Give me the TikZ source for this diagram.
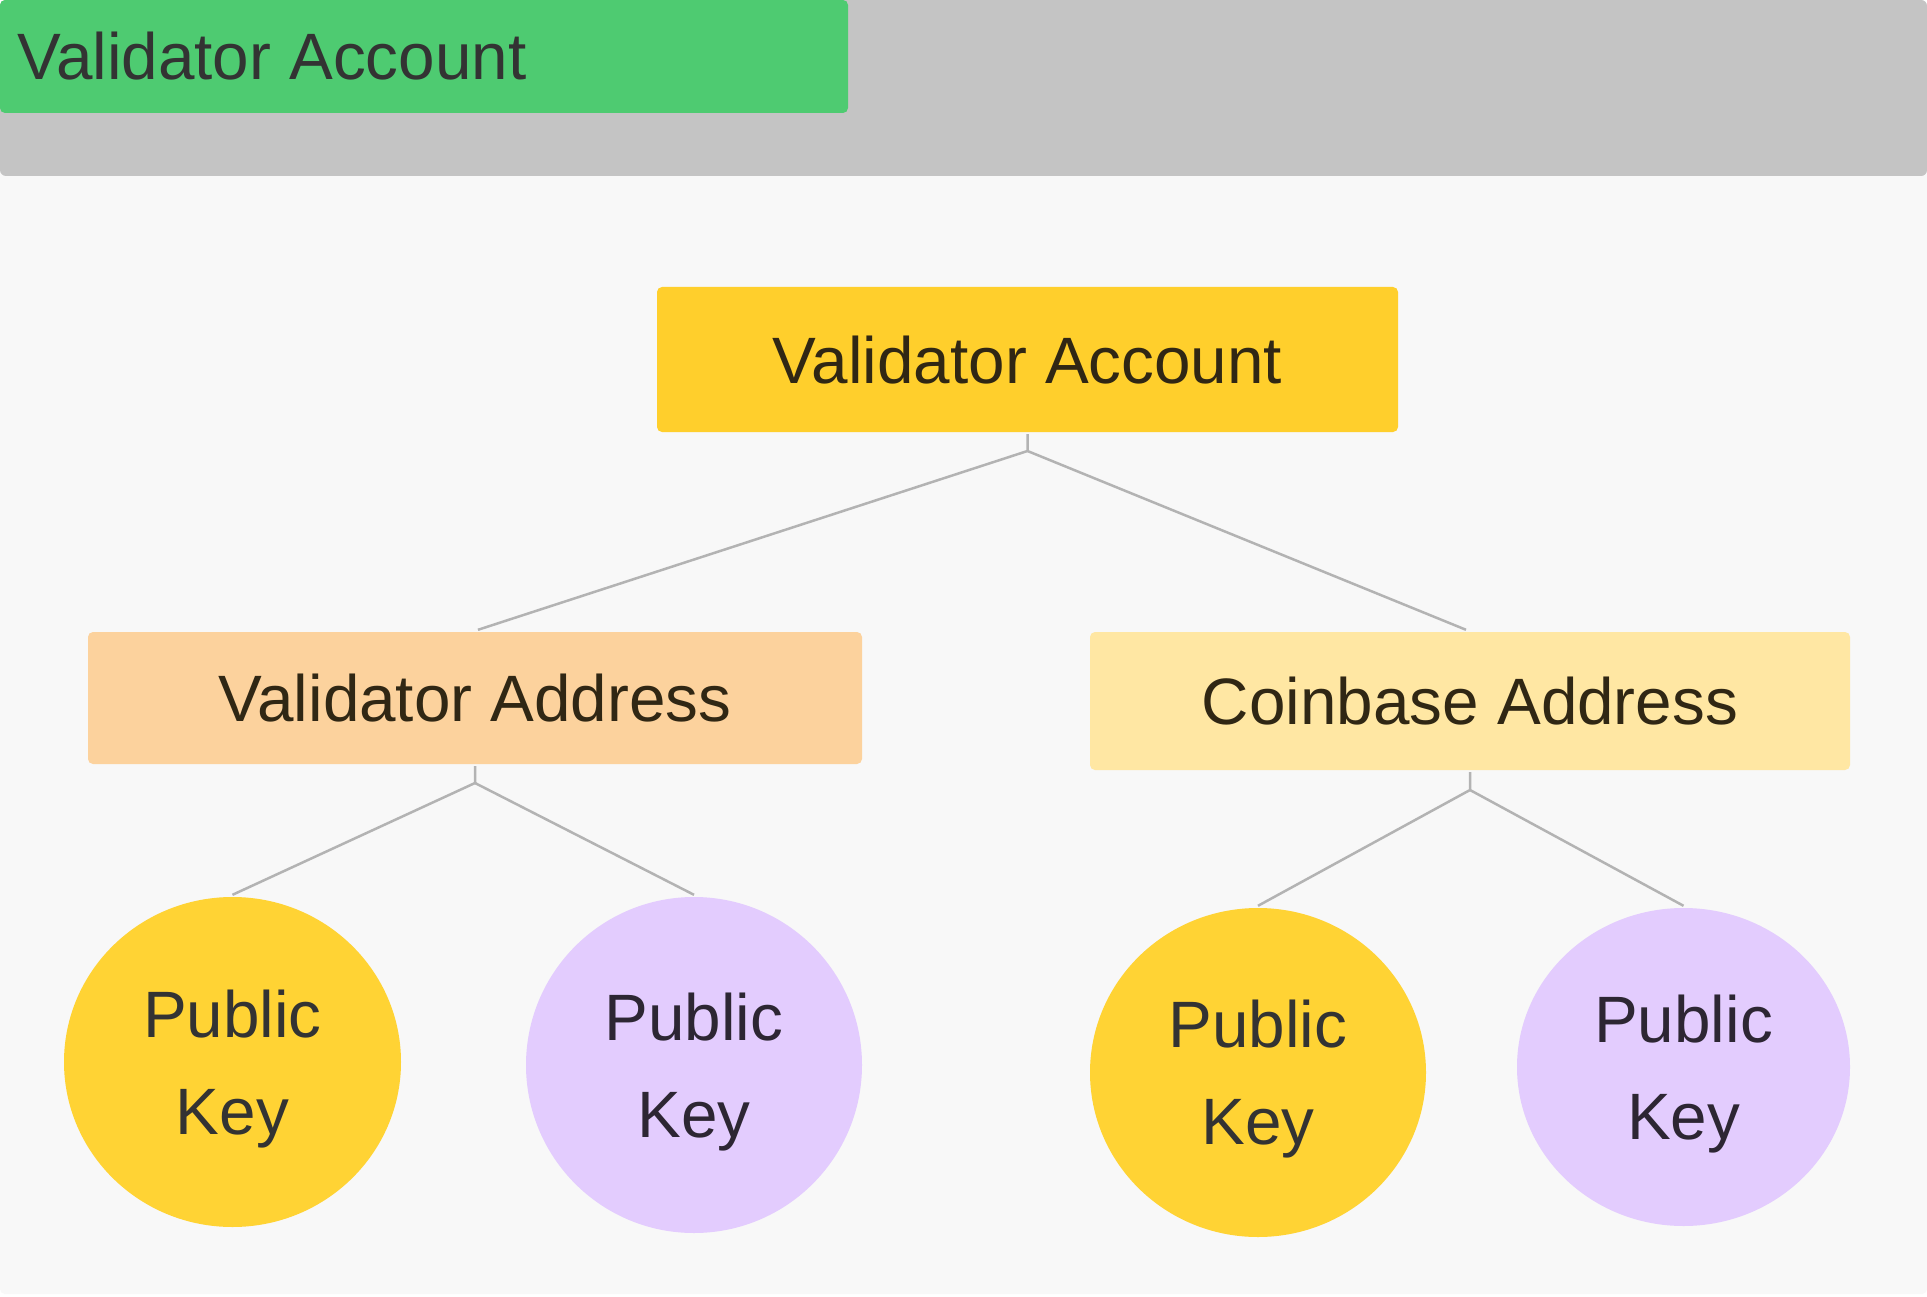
\documentclass[tikz,border=0pt]{standalone}
\usepackage{fontspec}
\setmainfont{Liberation Sans}
\usetikzlibrary{shapes.geometric}
\definecolor{pagebg}{HTML}{F8F8F8}
\definecolor{headgray}{HTML}{C4C4C4}
\definecolor{headgreen}{HTML}{4ECB71}
\definecolor{maintext}{HTML}{333333}
\definecolor{browntext}{HTML}{302714}
\definecolor{purptext}{HTML}{2D2633}
\definecolor{mainyellow}{HTML}{FFCF2C}
\definecolor{peach}{HTML}{FCD29D}
\definecolor{paleyellow}{HTML}{FFE7A3}
\definecolor{purple}{HTML}{E3CCFE}
\definecolor{circyellow}{HTML}{FFD334}
\definecolor{connline}{HTML}{B3B3B3}
\newcommand{\bigfont}{\fontsize{65.6}{97}\selectfont}
\begin{document}
\begin{tikzpicture}[x=1pt,y=-1pt,
  boxnode/.style={rectangle, rounded corners=5pt, inner sep=0pt, font=\bigfont,
    text height=47pt, text depth=0pt, text=browntext},
  keynode/.style={ellipse, inner sep=0pt, font=\bigfont, align=center,
    text depth=0pt},
  conn/.style={draw=connline, line width=2.5pt}]
\useasboundingbox (0,0) rectangle (1927,1297);
\fill[white] (0,0) rectangle (1927,1297);
\fill[pagebg, rounded corners=5pt] (0,0) rectangle (1927,1294);
\fill[headgray, rounded corners=6pt] (0,0) rectangle (1927,176);
\fill[headgreen, rounded corners=5pt] (0,0) rectangle (848,113);
\node[anchor=base west, inner sep=0pt, font=\bigfont, text=maintext] (title) at (17,80) {Validator Account};

\node[boxnode, fill=mainyellow, minimum width=741pt, minimum height=145pt] (va) at (1027.5,359.5) {Validator Account};
\node[boxnode, fill=peach, minimum width=774pt, minimum height=132pt] (vaddr) at (475,698) {Validator Address};
\node[boxnode, fill=paleyellow, minimum width=760pt, minimum height=138pt] (cb) at (1470,701) {Coinbase Address};

\node[keynode, fill=circyellow, text=maintext, minimum width=337pt, minimum height=330pt] (k1) at (232.5,1062) {Public\\Key};
\node[keynode, fill=purple, text=purptext, minimum width=336pt, minimum height=336pt] (k2) at (694,1065) {Public\\Key};
\node[keynode, fill=circyellow, text=maintext, minimum width=336pt, minimum height=329pt] (k3) at (1258,1072.5) {Public\\Key};
\node[keynode, fill=purple, text=purptext, minimum width=333pt, minimum height=318pt] (k4) at (1683.5,1067) {Public\\Key};

\coordinate (j0) at (1027.5,451);
\coordinate (j1) at (475,783);
\coordinate (j2) at (1470,790);
\draw[conn] ([yshift=-2pt]va.south) -- (j0) -- ([xshift=3pt,yshift=2pt]vaddr.north);
\draw[conn] (j0) -- ([xshift=-4pt,yshift=2pt]cb.north);
\draw[conn] ([yshift=-2pt]vaddr.south) -- (j1) -- ([yshift=2pt]k1.north);
\draw[conn] (j1) -- ([yshift=2pt]k2.north);
\draw[conn] ([yshift=-2pt]cb.south) -- (j2) -- ([yshift=2pt]k3.north);
\draw[conn] (j2) -- ([yshift=2pt]k4.north);
\end{tikzpicture}
\end{document}
